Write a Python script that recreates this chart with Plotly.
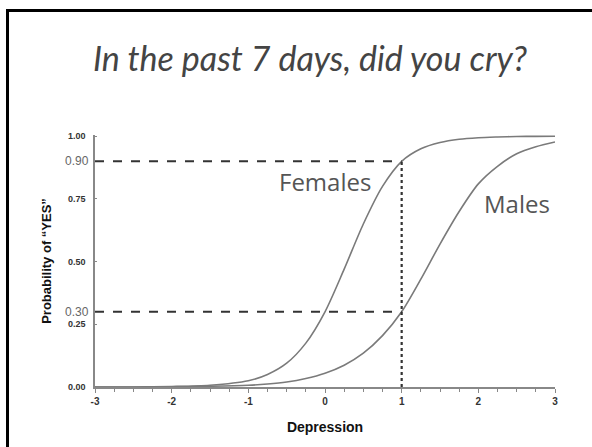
import plotly.graph_objects as go

# Depression (x) sample points and probabilities
depression = [-3.0, -2.5, -2.0, -1.5, -1.0, -0.75, -0.5, -0.25, 0.0, 0.25, 0.5,
              0.75, 1.0, 1.25, 1.5, 1.75, 2.0, 2.25, 2.5, 2.75, 3.0]
females = [0.000, 0.000, 0.002, 0.007, 0.025, 0.05, 0.095, 0.175, 0.30, 0.47, 0.65,
           0.80, 0.90, 0.95, 0.975, 0.988, 0.994, 0.997, 0.999, 0.9995, 1.000]
males = [0.000, 0.000, 0.001, 0.003, 0.007, 0.012, 0.020, 0.034, 0.055, 0.087, 0.135,
         0.205, 0.30, 0.43, 0.57, 0.70, 0.81, 0.88, 0.93, 0.958, 0.977]

ref_x = 1.0
ref_female = 0.90
ref_male = 0.30

ytick_vals = [0.0, 0.25, 0.5, 0.75, 1.0]
ytick_text = ["0.00", "0.25", "0.50", "0.75", "1.00"]
xtick_vals = [-3, -2, -1, 0, 1, 2, 3]
xtick_text = ["-3", "-2", "-1", "0", "1", "2", "3"]

W, H = 592, 447
L, R, T, B = 95, 37, 135, 60
pw, ph = W - L - R, H - T - B


def px_x(px):
    return (px - L) / pw


def px_y(py):
    return (H - B - py) / ph


curve_color = "#7a7a7a"
dash_color = "#333333"

fig = go.Figure()
fig.add_trace(go.Scatter(x=depression, y=females, mode="lines",
                         line=dict(color=curve_color, width=1.6, shape="spline", smoothing=0.8),
                         name="Females", hoverinfo="skip"))
fig.add_trace(go.Scatter(x=depression, y=males, mode="lines",
                         line=dict(color=curve_color, width=1.6, shape="spline", smoothing=0.8),
                         name="Males", hoverinfo="skip"))

# dashed reference lines
for yv in (ref_female, ref_male):
    fig.add_shape(type="line", xref="x", yref="y", x0=-3, x1=ref_x, y0=yv, y1=yv,
                  line=dict(color=dash_color, width=2, dash="dash"))
fig.add_shape(type="line", xref="x", yref="y", x0=ref_x, x1=ref_x, y0=0, y1=ref_female,
              line=dict(color=dash_color, width=2.2, dash="dot"))

# outer frame (top and left only visible)
fig.add_shape(type="line", xref="paper", yref="paper", x0=px_x(7.5), x1=px_x(600), y0=px_y(10.5), y1=px_y(10.5),
              line=dict(color="black", width=3))
fig.add_shape(type="line", xref="paper", yref="paper", x0=px_x(7.5), x1=px_x(7.5), y0=px_y(9), y1=px_y(460),
              line=dict(color="black", width=3))

annotations = [
    dict(text="<i>In the past 7 days, did you cry?</i>", xref="paper", yref="paper",
         x=px_x(310), y=px_y(57), xanchor="center", yanchor="middle", showarrow=False,
         font=dict(family="Lato", size=34, color="#444444")),
    dict(text="Females", xref="paper", yref="paper", x=px_x(277), y=px_y(181),
         xanchor="left", yanchor="middle", showarrow=False,
         font=dict(family="Open Sans", size=24, color="#555555")),
    dict(text="Males", xref="paper", yref="paper", x=px_x(482), y=px_y(203),
         xanchor="left", yanchor="middle", showarrow=False,
         font=dict(family="Open Sans", size=24, color="#555555")),
    dict(text="0.90", xref="paper", yref="y", x=px_x(91), y=ref_female,
         xanchor="right", yanchor="middle", showarrow=False,
         font=dict(family="Liberation Sans", size=12, color="#666666")),
    dict(text="0.30", xref="paper", yref="y", x=px_x(91), y=ref_male,
         xanchor="right", yanchor="middle", showarrow=False,
         font=dict(family="Liberation Sans", size=12, color="#666666")),
]

fig.update_layout(
    width=W, height=H,
    margin=dict(l=L, r=R, t=T, b=B, pad=0),
    paper_bgcolor="white", plot_bgcolor="white",
    showlegend=False,
    annotations=annotations,
    xaxis=dict(range=[-3, 3], tickvals=xtick_vals, ticktext=xtick_text,
               showgrid=False, zeroline=False, showline=True, linecolor="#888888", linewidth=1.5,
               ticks="outside", ticklen=4, tickcolor="#888888", tickwidth=1.2,
               minor=dict(dtick=0.25, ticks="outside", ticklen=3, tickcolor="#888888", tickwidth=1),
               tickfont=dict(family="Liberation Sans", size=10, color="#333333", weight="bold"),
               title=dict(text="<b>Depression</b>", font=dict(family="Liberation Sans", size=14, color="#111111"),
                          standoff=16),
               fixedrange=True),
    yaxis=dict(range=[0, 1.005], tickvals=ytick_vals, ticktext=ytick_text,
               showgrid=False, zeroline=False, showline=True, linecolor="#888888", linewidth=1.5,
               ticks="inside", ticklen=2, tickcolor="#888888",
               tickfont=dict(family="Liberation Sans", size=9, color="#333333", weight="bold"),
               ticklabelstandoff=6,
               title=dict(text="<b>Probability of “YES”</b>", font=dict(family="Liberation Sans", size=13, color="#111111"),
                          standoff=13),
               fixedrange=True),
)

fig.write_html("out.html", config={"displayModeBar": False},
               post_script="document.body.style.margin='0';document.body.style.overflow='hidden';")
